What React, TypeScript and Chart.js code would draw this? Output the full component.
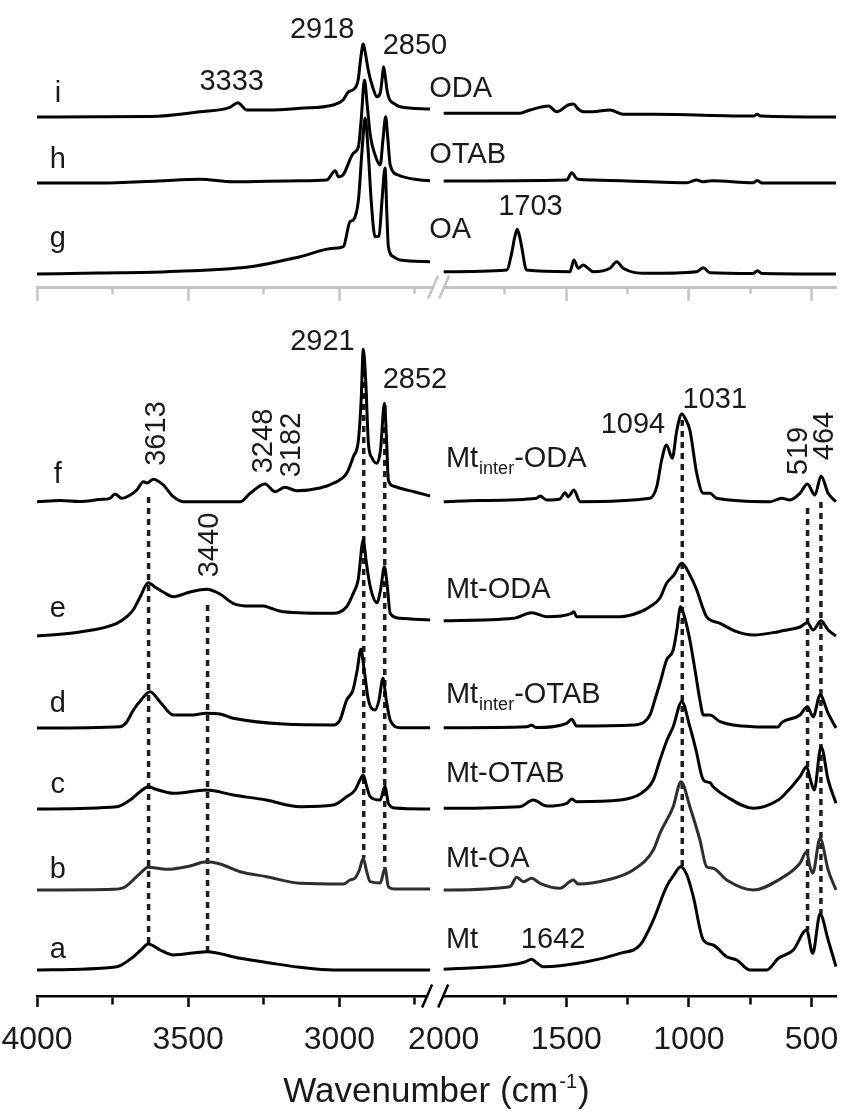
import React, { useEffect, useRef } from 'react';
import { Chart, registerables, LinearScale } from 'chart.js';

Chart.register(...registerables);

// ---------- axis break geometry ----------
const X_MAX = 4000;
const BREAK_HI = 2700;
const BREAK_LO = 2000;
const X_MIN = 400;
const LEFT_FRAC = 0.492;
const RIGHT_FRAC = 0.509;

class BrokenScale extends LinearScale {
  static id = 'broken';
  static defaults = LinearScale.defaults;
  getPixelForValue(value: any) {
    if (value === null || value === undefined || isNaN(value)) return NaN;
    const L = (this as any).left;
    const W = (this as any).right - L;
    if (value >= (BREAK_HI + BREAK_LO) / 2) {
      return L + W * LEFT_FRAC * (X_MAX - value) / (X_MAX - BREAK_HI);
    }
    return L + W * (RIGHT_FRAC + (1 - RIGHT_FRAC) * (BREAK_LO - value) / (BREAK_LO - X_MIN));
  }
  getValueForPixel(pixel: number) {
    const L = (this as any).left;
    const W = (this as any).right - L;
    const f = (pixel - L) / W;
    if (f <= (LEFT_FRAC + RIGHT_FRAC) / 2) return X_MAX - (f / LEFT_FRAC) * (X_MAX - BREAK_HI);
    return BREAK_LO - ((f - RIGHT_FRAC) / (1 - RIGHT_FRAC)) * (BREAK_LO - X_MIN);
  }
}
Chart.register(BrokenScale as any);

// ---------- ticks ----------
const TICKS = [4000, 3750, 3500, 3250, 3000, 2750, 2000, 1750, 1500, 1250, 1000, 750, 500];
const MINOR_TICKS = [3750, 3250, 2750, 1750, 1250, 750];
const HIDDEN_TICKS = [2000];
const TICK_LABELS: Record<number, string> = { 4000: '4000', 3500: '3500', 3000: '3000', 2000: '2000', 1500: '1500', 1000: '1000', 500: '500' };
const X_TITLE = 'Wavenumber (cm';
const X_TITLE_SUP = '-1';
const X_TITLE_END = ')';

// ---------- vertical offsets of each spectrum ----------
const OFFSET_I = 879;
const OFFSET_H = 813;
const OFFSET_G = 722;
const OFFSET_F = 494;
const OFFSET_E = 360;
const OFFSET_D = 268;
const OFFSET_C = 187;
const OFFSET_B = 106;
const OFFSET_A = 26;
const TOP_AXIS_LEVEL = 709;

// ---------- spectra: [wavenumber, absorbance (a.u.)] ----------
const SPEC_I_L = [[4000,0],[3800,0.3],[3626,0.5],[3461,5.3],[3362,9.7],[3336,14.3],[3306,7],[3240,7],[3130,8.7],[3021,12],[2988,17],[2970,25.3],[2956,27],[2938,37],[2929,60],[2921,73],[2913,62],[2904,46],[2890,30],[2876,20.3],[2865,24],[2858,40],[2854,50.3],[2849,42],[2842,26],[2835,18],[2822,14],[2799,10.3],[2700,8]];
const SPEC_I_R = [[2000,3.7],[1689,3.7],[1648,7],[1573,11],[1539,5.3],[1492,12],[1471,13],[1452,8],[1431,5.3],[1391,5.3],[1322,7],[1268,2.7],[1145,2.7],[737,1],[721,2.7],[706,1],[400,0]];

const SPEC_H_L = [[4000,0],[3792,0],[3600,2],[3461,3.7],[3352,1.3],[3130,2.3],[3042,3],[3014,12.3],[3003,6.3],[2988,8],[2954,29.7],[2937,36.3],[2928,63],[2917,103],[2908,78],[2898,48],[2882,28],[2865,18],[2856,43],[2847,66.3],[2840,45],[2832,18],[2806,8],[2733,3],[2700,2.3]];
const SPEC_H_R = [[2000,2],[1498,3],[1478,10.3],[1460,5],[1451,3.7],[1390,3],[1009,0.3],[968,3],[943,1.3],[907,2.3],[737,0.3],[721,2.5],[702,0],[400,0]];

const SPEC_G_L = [[4000,0],[3800,1],[3571,2.3],[3295,7.3],[3130,17.3],[3020,25.7],[2987,27.3],[2965,52.3],[2954,54],[2937,74],[2925,124],[2915,156],[2905,124],[2895,74],[2882,37.3],[2869,38],[2859,74],[2849,106],[2843,60],[2838,27.3],[2821,17.3],[2799,14],[2700,12.3]];
const SPEC_G_R = [[2000,2.3],[1743,4],[1723,20.7],[1711,36],[1700,44.7],[1689,36],[1682,27.3],[1662,4],[1485,2.3],[1469,14],[1451,5.7],[1431,9],[1412,6],[1390,2.3],[1322,5.7],[1294,12.3],[1268,5.7],[1172,0.7],[968,2.3],[941,6.3],[914,1.3],[737,0.5],[721,3.3],[702,0.5],[400,0]];

const SPEC_F_L = [[4000,0.3],[3924,1.5],[3858,0.5],[3792,2.5],[3759,3.7],[3742,8],[3720,3.7],[3692,7],[3670,12],[3648,20.3],[3636,19],[3615,22.7],[3600,21],[3582,17],[3549,5.3],[3516,0.3],[3328,0.3],[3295,8.7],[3246,18],[3213,10.3],[3180,14.7],[3141,11.3],[3064,14],[3020,18.7],[2976,28.7],[2954,45.3],[2937,62],[2928,102],[2921,152.7],[2913,122],[2904,58.7],[2892,44],[2876,38.7],[2864,52],[2851,98.7],[2844,62],[2838,22],[2822,16],[2799,13.7],[2750,10],[2700,6]];
const SPEC_F_R = [[2000,0.3],[1852,1.5],[1621,3.7],[1607,6],[1580,2],[1526,3],[1505,9.3],[1492,5.3],[1469,12],[1444,0.3],[1159,3.7],[1131,15.3],[1111,42],[1091,57],[1068,43.7],[1049,72],[1029,88],[1012,82],[996,72],[968,28.7],[941,8.7],[914,8.7],[887,3.7],[669,0.3],[622,3.7],[588,2],[547,8.7],[517,18],[486,7],[461,26],[432,8.7],[400,0.3]];

const SPEC_E_L = [[4000,0],[3858,4],[3736,12.7],[3703,19.3],[3682,26],[3659,39],[3632,53.3],[3610,49],[3583,44],[3549,39.3],[3494,44],[3439,46.7],[3395,42],[3352,32.7],[3295,30],[3251,30],[3229,28],[3185,24.3],[3020,22.7],[2976,29.3],[2954,42.7],[2938,56],[2921,96],[2912,76],[2898,49.3],[2876,33.3],[2864,46],[2851,69.3],[2842,51],[2832,22.7],[2799,17.7],[2700,16]];
const SPEC_E_R = [[2000,15.3],[1716,17.7],[1641,23.3],[1580,19.3],[1478,22.7],[1469,24.3],[1458,19.3],[1281,19.3],[1199,24],[1159,29.3],[1118,38],[1091,52.7],[1061,61],[1029,72.7],[996,61],[968,46],[943,28],[928,19.3],[873,12.7],[805,4.3],[737,1],[635,4.3],[601,6],[547,9],[517,13.3],[493,6],[461,15.3],[432,6],[400,0]];

const SPEC_D_L = [[4000,0],[3725,1.3],[3706,5],[3681,18],[3656,28],[3626,36.3],[3593,26],[3549,13],[3494,13],[3439,14.7],[3395,14],[3351,9.7],[3020,3],[2998,8],[2976,28],[2955,38],[2941,58],[2929,78.7],[2918,58],[2904,28],[2882,18],[2869,28],[2856,49.7],[2845,28],[2832,8],[2799,0.3],[2700,0.3]];
const SPEC_D_R = [[2000,0.3],[1662,1.3],[1641,2.7],[1624,0.5],[1498,4.7],[1478,8.7],[1458,2],[1227,3],[1159,13],[1139,28],[1118,44.7],[1091,68],[1064,78],[1049,98],[1034,121.3],[1020,113],[996,88],[975,58],[955,28],[941,13],[914,13],[873,6.3],[737,1.3],[637,1],[622,5.3],[547,13],[517,21.3],[493,11.3],[465,33],[432,14.7],[400,0]];

const SPEC_C_L = [[4000,0],[3736,2.3],[3692,9],[3659,17.3],[3632,22.3],[3610,20],[3549,15.7],[3439,19],[3351,14],[3242,9],[3130,2.3],[3020,4],[2976,12.3],[2948,19],[2932,29],[2921,34],[2911,24],[2898,12.3],[2865,9],[2849,23],[2838,5.7],[2816,1],[2700,0]];
const SPEC_C_R = [[2000,0.7],[1689,2.3],[1635,9],[1580,3],[1498,5.7],[1478,10],[1458,7.3],[1281,9],[1199,15],[1145,29],[1118,49],[1089,69],[1064,82.3],[1029,107.3],[996,82.3],[971,59],[941,29],[914,26.3],[901,22.3],[846,12.3],[737,0.7],[635,9],[612,14],[547,32.3],[520,42.3],[504,29],[489,19],[461,62.3],[432,29],[400,5.7]];

const SPEC_B_L = [[4000,0],[3748,0.7],[3709,3],[3659,16.7],[3632,22.7],[3571,20.7],[3494,24],[3439,28.3],[3395,26],[3328,18.3],[3240,13.3],[3130,6.7],[2987,6],[2965,10],[2948,12],[2934,20],[2921,31.7],[2911,20],[2898,8.3],[2865,7],[2849,21.7],[2838,3.3],[2816,1],[2700,1]];
const SPEC_B_R = [[2000,0],[1730,3.3],[1702,12.7],[1675,8.3],[1641,11.7],[1607,6.7],[1526,1.7],[1471,10],[1452,6],[1335,10],[1227,20],[1145,40],[1118,56.7],[1064,83.3],[1032,108.3],[996,83.3],[955,50],[928,23.3],[901,21.7],[846,10],[737,0],[635,10],[547,26.7],[520,38.3],[508,25],[495,16.7],[465,51.7],[432,20],[400,0]];

const SPEC_A_L = [[4000,0],[3736,3.3],[3681,13.3],[3656,20],[3632,26],[3593,20],[3549,15],[3439,18.3],[3328,11.7],[3229,7],[3130,2.7],[3020,0],[2700,0]];
const SPEC_A_R = [[2000,0.7],[1730,5],[1669,8],[1641,10.7],[1620,7],[1594,3.3],[1417,8.3],[1281,16.7],[1199,25],[1145,50],[1091,83.3],[1061,95],[1034,103.3],[1008,95],[982,73.3],[941,30],[901,25],[846,13.3],[805,10],[751,0],[683,0],[635,11.7],[574,20],[520,40],[495,16.7],[465,56],[432,30],[400,3.3]];

// ---------- dotted guide lines ----------
const GUIDE_WN = [3631, 3436, 2919.5, 2850, 1027, 516, 461.5];
const GUIDE_TOP = [499, 391, 636, 591, 576, 488, 494];
const GUIDE_BOTTOM = [52, 44, 138, 128, 129, 66, 82];

// ---------- text annotations ----------
const PEAK_TEXT = ['3333', '2918', '2850', '1703', '2921', '2852', '1094', '1031', '1642'];
const PEAK_X = [3356, 3057, 2750, 1646, 3056, 2750, 1228, 894, 1554];
const PEAK_Y = [906, 958, 942, 781, 646, 608, 563, 588, 48];

const VPEAK_TEXT = ['3613', '3440', '3248', '3182', '519', '464'];
const VPEAK_X = [3577, 3401, 3223, 3130, 518, 412];
const VPEAK_Y = [562.5, 451, 555, 551, 545, 560];

const LETTERS = ['i', 'h', 'g', 'f', 'e', 'd', 'c', 'b', 'a'];
const LETTER_X = 3931;
const LETTER_Y = [894, 828, 749, 513, 379, 284, 203, 118, 38];

const NAME_MAIN = ['ODA', 'OTAB', 'OA', 'Mt', 'Mt', 'Mt', 'Mt', 'Mt', 'Mt'];
const NAME_SUB = ['', '', '', 'inter', '', 'inter', '', '', ''];
const NAME_REST = ['', '', '', '-ODA', '-ODA', '-OTAB', '-OTAB', '-OA', ''];
const NAME_X = [2703, 2703, 2703, 1991, 1991, 1991, 1991, 1991, 1991];
const NAME_Y = [899, 833, 758, 529, 398, 293, 214, 129, 48];

const FONT = '"Liberation Sans", Arial, Helvetica, sans-serif';
const TEXT_COLOR = '#1a1a1a';

const toPoints = (arr: number[][], offset: number) => arr.map(([x, y]) => ({ x, y: y + offset }));

const annotationPlugin = {
  id: 'ftirAnnotations',
  afterDraw(chart: any) {
    const ctx = chart.ctx;
    const xs = chart.scales.x;
    const ys = chart.scales.y;
    const xa = xs.getPixelForValue(BREAK_HI);
    const xb = xs.getPixelForValue(BREAK_LO);
    ctx.save();

    // axis breaks
    const drawBreak = (yAxis: number, c1: number, c2: number, color: string) => {
      ctx.fillStyle = '#ffffff';
      ctx.fillRect(c1 + 1, yAxis - 3, c2 - c1 - 2, 6);
      ctx.strokeStyle = color;
      ctx.lineWidth = 2.5;
      for (const c of [c1, c2]) {
        ctx.beginPath();
        ctx.moveTo(c - 5, yAxis + 11.5);
        ctx.lineTo(c + 5, yAxis - 11.5);
        ctx.stroke();
      }
    };
    drawBreak(xs.top, xa - 3, xb - 0.5, '#000000');
    drawBreak(ys.getPixelForValue(TOP_AXIS_LEVEL), xa + 3, xb + 0.5, '#c3c3c3');

    ctx.fillStyle = TEXT_COLOR;
    ctx.textBaseline = 'alphabetic';

    // horizontal peak labels
    ctx.font = `29px ${FONT}`;
    ctx.textAlign = 'center';
    PEAK_TEXT.forEach((t, i) => {
      ctx.fillText(t, xs.getPixelForValue(PEAK_X[i]), ys.getPixelForValue(PEAK_Y[i]));
    });

    // vertical peak labels
    VPEAK_TEXT.forEach((t, i) => {
      ctx.save();
      ctx.translate(xs.getPixelForValue(VPEAK_X[i]), ys.getPixelForValue(VPEAK_Y[i]));
      ctx.rotate(-Math.PI / 2);
      ctx.textAlign = 'center';
      ctx.fillText(t, 0, 0);
      ctx.restore();
    });

    // trace letters
    ctx.font = `29px ${FONT}`;
    ctx.textAlign = 'center';
    LETTERS.forEach((t, i) => {
      ctx.fillText(t, xs.getPixelForValue(LETTER_X), ys.getPixelForValue(LETTER_Y[i]));
    });

    // sample names
    ctx.textAlign = 'left';
    NAME_MAIN.forEach((m, i) => {
      let x = xs.getPixelForValue(NAME_X[i]);
      const y = ys.getPixelForValue(NAME_Y[i]);
      ctx.font = `29px ${FONT}`;
      ctx.fillText(m, x, y);
      x += ctx.measureText(m).width;
      if (NAME_SUB[i]) {
        ctx.font = `18px ${FONT}`;
        ctx.fillText(NAME_SUB[i], x + 1, y + 7);
        x += ctx.measureText(NAME_SUB[i]).width + 1;
      }
      if (NAME_REST[i]) {
        ctx.font = `29px ${FONT}`;
        ctx.fillText(NAME_REST[i], x, y);
      }
    });

    // axis title with superscript
    ctx.font = `35px ${FONT}`;
    const w1 = ctx.measureText(X_TITLE).width;
    const w3 = ctx.measureText(X_TITLE_END).width;
    ctx.font = `20px ${FONT}`;
    const w2 = ctx.measureText(X_TITLE_SUP).width;
    const total = w1 + w2 + w3 + 2;
    const cx = (xs.left + xs.right) / 2;
    const ty = xs.top + 106;
    let tx = cx - total / 2;
    ctx.textAlign = 'left';
    ctx.font = `35px ${FONT}`;
    ctx.fillText(X_TITLE, tx, ty);
    tx += w1 + 1;
    ctx.font = `20px ${FONT}`;
    ctx.fillText(X_TITLE_SUP, tx, ty - 14);
    tx += w2 + 1;
    ctx.font = `35px ${FONT}`;
    ctx.fillText(X_TITLE_END, tx, ty);
    ctx.restore();
  },
};

export default function App() {
  const canvasRef = useRef<HTMLCanvasElement | null>(null);

  useEffect(() => {
    if (!canvasRef.current) return;
    Chart.defaults.font.family = FONT;

    const spectra = [
      { l: SPEC_I_L, r: SPEC_I_R, o: OFFSET_I, c: '#000000' },
      { l: SPEC_H_L, r: SPEC_H_R, o: OFFSET_H, c: '#000000' },
      { l: SPEC_G_L, r: SPEC_G_R, o: OFFSET_G, c: '#000000' },
      { l: SPEC_F_L, r: SPEC_F_R, o: OFFSET_F, c: '#000000' },
      { l: SPEC_E_L, r: SPEC_E_R, o: OFFSET_E, c: '#000000' },
      { l: SPEC_D_L, r: SPEC_D_R, o: OFFSET_D, c: '#000000' },
      { l: SPEC_C_L, r: SPEC_C_R, o: OFFSET_C, c: '#000000' },
      { l: SPEC_B_L, r: SPEC_B_R, o: OFFSET_B, c: '#2e2e2e' },
      { l: SPEC_A_L, r: SPEC_A_R, o: OFFSET_A, c: '#000000' },
    ];

    const datasets: any[] = [];
    spectra.forEach((s) => {
      for (const seg of [s.l, s.r]) {
        datasets.push({
          data: toPoints(seg, s.o),
          borderColor: s.c,
          borderWidth: 3,
          pointRadius: 0,
          fill: false,
          cubicInterpolationMode: 'monotone',
          clip: false,
          xAxisID: 'x',
          yAxisID: 'y',
        });
      }
    });
    GUIDE_WN.forEach((w, i) => {
      datasets.push({
        data: [{ x: w, y: GUIDE_TOP[i] }, { x: w, y: GUIDE_BOTTOM[i] }],
        borderColor: '#1e1e1e',
        borderWidth: 3.5,
        borderDash: [6, 5],
        pointRadius: 0,
        fill: false,
        tension: 0,
        clip: false,
        xAxisID: 'x',
        yAxisID: 'y',
      });
    });

    const setTicks = (s: any) => {
      s.ticks = TICKS.map((v) => ({ value: v }));
    };
    const tickDash = (ctx: any) => (ctx.tick && MINOR_TICKS.includes(ctx.tick.value) ? [7, 100] : []);

    const chart = new Chart(canvasRef.current, {
      type: 'line',
      data: { datasets },
      plugins: [annotationPlugin],
      options: {
        animation: false,
        responsive: false,
        events: [],
        layout: { padding: { left: 37, right: 10, top: 0, bottom: 0 } },
        plugins: { legend: { display: false }, tooltip: { enabled: false } },
        scales: {
          x: {
            type: 'broken' as any,
            position: 'bottom',
            min: X_MIN,
            max: X_MAX,
            afterBuildTicks: setTicks,
            afterFit: (s: any) => {
              s.paddingLeft = 0;
              s.paddingRight = 0;
              s.height = 116;
            },
            ticks: {
              autoSkip: false,
              maxRotation: 0,
              minRotation: 0,
              padding: 14,
              color: TEXT_COLOR,
              font: { family: FONT, size: 32 },
              callback: (v: any) => TICK_LABELS[v as number] ?? '',
            },
            grid: {
              drawOnChartArea: false,
              tickLength: 11,
              tickWidth: 2.5,
              tickColor: (ctx: any) => (ctx.tick && HIDDEN_TICKS.includes(ctx.tick.value) ? 'rgba(0,0,0,0)' : '#000000'),
              tickBorderDash: tickDash,
            },
            border: { color: '#000000', width: 2.5 },
          } as any,
          xTop: {
            type: 'broken' as any,
            axis: 'x',
            position: { y: TOP_AXIS_LEVEL },
            min: X_MIN,
            max: X_MAX,
            afterBuildTicks: setTicks,
            afterFit: (s: any) => {
              s.paddingLeft = 0;
              s.paddingRight = 0;
            },
            ticks: { display: false, autoSkip: false, maxRotation: 0 },
            grid: {
              drawOnChartArea: false,
              tickLength: 12,
              tickWidth: 2.5,
              tickColor: (ctx: any) => (ctx.tick && HIDDEN_TICKS.includes(ctx.tick.value) ? 'rgba(0,0,0,0)' : '#c3c3c3'),
              tickBorderDash: (ctx: any) => (ctx.tick && MINOR_TICKS.includes(ctx.tick.value) ? [5, 100] : []),
            },
            border: { color: '#c3c3c3', width: 3 },
          } as any,
          y: {
            type: 'linear',
            display: false,
            min: 0,
            max: 996,
          },
        },
      },
    });
    return () => chart.destroy();
  }, []);

  return (
    <div style={{ position: 'absolute', left: 0, top: 0, width: 846, height: 1112, background: '#ffffff' }}>
      <canvas ref={canvasRef} width={846} height={1112} style={{ width: 846, height: 1112 }} />
    </div>
  );
}
